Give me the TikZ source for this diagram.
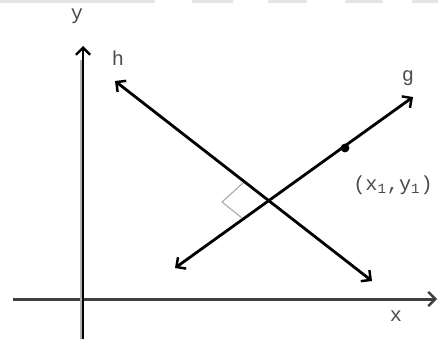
\documentclass[tikz,border=0pt]{standalone}
\usepackage{fontspec}
\setmainfont{Liberation Mono}
\usetikzlibrary{arrows.meta, positioning, calc}

\begin{document}
\begin{tikzpicture}[
  x=0.02cm, y=-0.02cm,
  every node/.style={font=\fontsize{11.5}{12}\selectfont, text=black!70},
  axis/.style={line width=1.7pt, -{Straight Barb[length=4pt,width=8pt,line width=1.4pt]}},
  arr/.style={line width=1.6pt, {Straight Barb[length=4pt,width=8pt,line width=1.4pt]}-{Straight Barb[length=4pt,width=8pt,line width=1.4pt]}},
  lbl/.style={inner sep=0pt},
  pt/.style={circle, fill=black, inner sep=0pt, minimum size=5pt},
]
\clip (0,0) rectangle (438,338);
\fill[white] (0,0) rectangle (438,338);

% --- top band
\foreach \a/\b in {0/155, 192/233, 268/307, 345/383, 412/438}
  \fill[black!10] (\a,0) rectangle (\b,3);

% --- axes
\coordinate (ylo) at (83,340);
\coordinate (yhi) at (83,46);
\coordinate (xlo) at (13,299);
\coordinate (xhi) at (437,299);
\draw[axis, black!75] (xlo) -- (xhi);
\draw[black!30, line width=1.6pt] (81,340) -- (81,60);
\draw[axis, black] (ylo) -- (yhi);
\node[lbl] (ylab) at (77,16) {y};
\node[lbl] (xlab) at (396,316) {x};

% --- lines h and g
\coordinate (h1) at (115,81);
\coordinate (h2) at (372,281);
\coordinate (g1) at (175,268);
\coordinate (g2) at (413,97);
\draw[arr] (h1) -- (h2);
\draw[arr] (g1) -- (g2);
\node[lbl] (hlab) at (118,58) {h};
\node[lbl] (glab) at (408,78) {g};

% --- right angle mark
\coordinate (cross) at (269,201);
\draw[black!35, line width=0.6pt] (243,183) -- (222,202) -- (242,218);

% --- point on g
\node[pt] (p1) at (345,148) {};
\node[lbl, anchor=west] (plab) at (353,185) {(x\textsubscript{1},y\textsubscript{1})};
\end{tikzpicture}
\end{document}
